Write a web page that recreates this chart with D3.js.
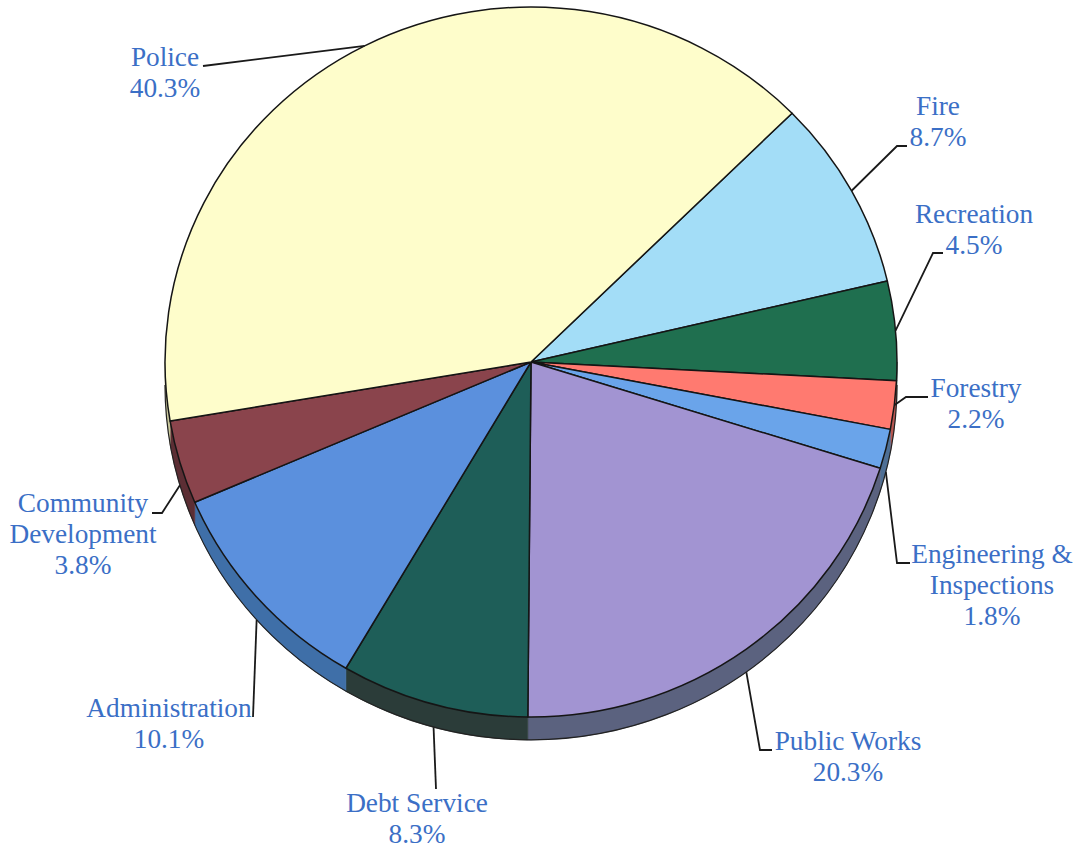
<!DOCTYPE html>
<html>
<head>
<meta charset="utf-8">
<script src="https://cdn.jsdelivr.net/npm/d3@7"></script>
<style>
  html, body { margin: 0; padding: 0; background: #ffffff; }
  svg { display: block; }
</style>
</head>
<body>
<svg id="chart" width="1076" height="849"></svg>
<script>
// Budget share by department, in drawing order (clockwise, starting at Fire)
const categories = ["Fire", "Recreation", "Forestry", "Engineering & Inspections",
  "Public Works", "Debt Service", "Administration", "Community Development", "Police"];
const shares = [8.7, 4.5, 2.2, 1.8, 20.3, 8.3, 10.1, 3.8, 40.3];
const labelLines = [["Fire"], ["Recreation"], ["Forestry"], ["Engineering &", "Inspections"],
  ["Public Works"], ["Debt Service"], ["Administration"], ["Community", "Development"], ["Police"]];

// Styling
const topColors  = ["#a3ddf7", "#1f6f4f", "#ff7a70", "#6aa4ea", "#a294d2", "#1e5e58", "#5b90dd", "#8a444c", "#fefdcb"];
const sideColors = ["#7fb2c8", "#174f3a", "#b85650", "#4e6f95", "#5b627f", "#2b3c39", "#3f6fa8", "#5c2e34", "#c9c89c"];

// Label placement: text centre x, first baseline, where the leader attaches, and its bends
const labelLayout = [
  { x: 938, y: 115, edge: "top",  path: [[897, 146], [907, 146]] },
  { x: 974, y: 223, edge: "top",  path: [[933, 253], [943, 253]] },
  { x: 976, y: 397, edge: "top",  path: [[906, 397], [928, 397]] },
  { x: 992, y: 563, edge: "base", path: [[897, 563], [910, 563]] },
  { x: 848, y: 750, edge: "base", path: [[760, 750], [772, 750]] },
  { x: 417, y: 812, edge: "base", path: [[436, 789]] },
  { x: 169, y: 717, edge: "base", path: [[253, 717]] },
  { x: 83,  y: 512, edge: "base", path: [[162, 513], [152, 513]] },
  { x: 165, y: 66,  edge: "top",  path: [[203, 66]] }
];

const cx = 531, cy = 362, rx = 366, ry = 355, depth = 23;
const lineGap = 31;

const svg = d3.select("#chart");

const startDeg = 45.5;
const pie = d3.pie().sort(null).value(d => d)
  .startAngle(startDeg * Math.PI / 180)
  .endAngle(startDeg * Math.PI / 180 + 2 * Math.PI);
const arcs = pie(shares);

// d3.pie measures from 12 o'clock; screen angles measure from 3 o'clock
const toScreen = a => a - Math.PI / 2;
const pt = (t, dy = 0) => [cx + rx * Math.cos(t), cy + ry * Math.sin(t) + dy];

// Side walls (only the front half, 0..π in screen angles, is visible)
const walls = svg.append("g");
arcs.forEach((a, i) => {
  const t1 = Math.max(toScreen(a.startAngle), 0);
  const t2 = Math.min(toScreen(a.endAngle), Math.PI);
  if (t2 <= t1) return;
  const p1 = pt(t1), p2 = pt(t2), q2 = pt(t2, depth), q1 = pt(t1, depth);
  const d = `M${p1}A${rx},${ry} 0 0 1 ${p2}L${q2}A${rx},${ry} 0 0 0 ${q1}Z`;
  walls.append("path").attr("d", d)
    .attr("fill", sideColors[i])
    .attr("stroke", sideColors[i]).attr("stroke-width", 0.6);
});
// dark rim along the base of the wall
{
  const b1 = pt(0, depth), b2 = pt(Math.PI, depth);
  walls.append("path")
    .attr("d", `M${b1}A${rx},${ry} 0 0 1 ${b2}`)
    .attr("fill", "none").attr("stroke", "#222").attr("stroke-width", 1.2);
}

// Top faces
const faces = svg.append("g");
arcs.forEach((a, i) => {
  const t1 = toScreen(a.startAngle), t2 = toScreen(a.endAngle);
  const large = (t2 - t1) > Math.PI ? 1 : 0;
  const d = `M${cx},${cy}L${pt(t1)}A${rx},${ry} 0 ${large} 1 ${pt(t2)}Z`;
  faces.append("path").attr("d", d)
    .attr("fill", topColors[i])
    .attr("stroke", "#151515").attr("stroke-width", 1.5)
    .attr("stroke-linejoin", "round");
});

// Leader lines
const leaders = svg.append("g");
arcs.forEach((a, i) => {
  const mid = toScreen((a.startAngle + a.endAngle) / 2);
  const lay = labelLayout[i];
  const anchor = pt(mid, lay.edge === "base" ? depth : 0);
  const pts = [anchor, ...lay.path];
  leaders.append("path").attr("d", d3.line()(pts))
    .attr("fill", "none").attr("stroke", "#1a1a1a").attr("stroke-width", 1.8);
});

// Labels
const fmt = d3.format(".1f");
const labels = svg.append("g")
  .attr("font-family", "'Liberation Serif', 'Times New Roman', serif")
  .attr("font-size", 27.3)
  .attr("fill", "#3b6fc6")
  .attr("text-anchor", "middle");
arcs.forEach((a, i) => {
  const lay = labelLayout[i];
  const lines = [...labelLines[i], fmt(shares[i]) + "%"];
  const t = labels.append("text").attr("x", lay.x).attr("y", lay.y);
  lines.forEach((s, k) => {
    t.append("tspan").attr("x", lay.x).attr("dy", k === 0 ? 0 : lineGap).text(s);
  });
});
</script>
</body>
</html>
